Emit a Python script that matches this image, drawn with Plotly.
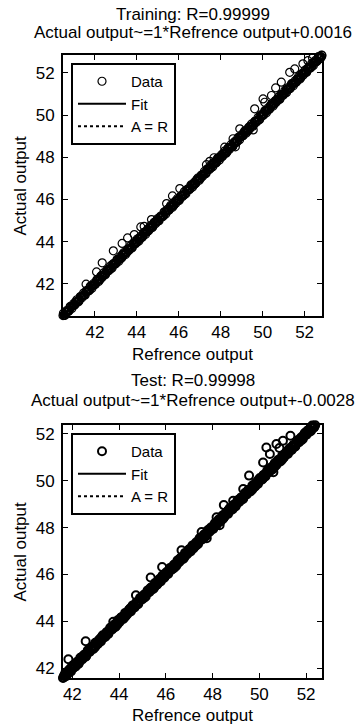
import plotly.graph_objects as go

# ---------------- Training data ----------------
train_ref = [40.48, 40.55, 40.63, 40.70, 40.79, 40.86, 40.95, 41.02, 41.11, 41.19, 41.27, 41.36, 41.44, 41.51, 41.60, 41.68,
             41.77, 41.85, 41.93, 42.02, 42.10, 42.18, 42.27, 42.35, 42.43, 42.52, 42.60, 42.69, 42.77, 42.85, 42.94, 43.02,
             43.10, 43.19, 43.27, 43.35, 43.44, 43.52, 43.61, 43.69, 43.77, 43.86, 43.94, 44.03, 44.11, 44.19, 44.28, 44.36,
             44.45, 44.53, 44.61, 44.70, 44.78, 44.87, 44.95, 45.03, 45.12, 45.20, 45.29, 45.37, 45.45, 45.54, 45.62, 45.71,
             45.79, 45.87, 45.96, 46.04, 46.13, 46.21, 46.29, 46.38, 46.46, 46.55, 46.63, 46.71, 46.80, 46.88, 46.97, 47.05,
             47.13, 47.22, 47.30, 47.39, 47.47, 47.55, 47.64, 47.72, 47.81, 47.89, 47.97, 48.06, 48.14, 48.23, 48.31, 48.39,
             48.48, 48.56, 48.65, 48.73, 48.81, 48.90, 48.98, 49.07, 49.15, 49.23, 49.32, 49.40, 49.49, 49.57, 49.65, 49.74,
             49.82, 49.91, 49.99, 50.07, 50.16, 50.24, 50.33, 50.41, 50.49, 50.58, 50.66, 50.75, 50.83, 50.91, 51.00, 51.08,
             51.17, 51.25, 51.33, 51.42, 51.50, 51.59, 51.67, 51.75, 51.84, 51.92, 52.01, 52.09, 52.17, 52.26, 52.34, 52.43,
             52.51, 52.59, 52.68, 52.76, 52.83]
train_act = [40.50, 40.53, 40.67, 40.70, 40.76, 40.91, 40.96, 40.99, 41.15, 41.19, 41.24, 41.41, 41.45, 41.48, 41.64, 41.69,
             41.74, 41.90, 41.94, 41.99, 42.14, 42.19, 42.24, 42.40, 42.44, 42.49, 42.64, 42.70, 42.74, 42.90, 42.95, 42.99,
             43.14, 43.20, 43.24, 43.40, 43.45, 43.49, 43.65, 43.70, 43.74, 43.91, 43.95, 44.00, 44.15, 44.20, 44.25, 44.41,
             44.46, 44.50, 44.65, 44.71, 44.75, 44.92, 44.96, 45.00, 45.16, 45.21, 45.26, 45.42, 45.46, 45.51, 45.66, 45.72,
             45.76, 45.92, 45.97, 46.01, 46.17, 46.22, 46.26, 46.43, 46.47, 46.52, 46.67, 46.72, 46.77, 46.93, 46.98, 47.02,
             47.17, 47.23, 47.27, 47.44, 47.48, 47.52, 47.68, 47.73, 47.78, 47.94, 47.98, 48.03, 48.18, 48.24, 48.28, 48.44,
             48.49, 48.53, 48.69, 48.74, 48.78, 48.95, 48.99, 49.04, 49.19, 49.24, 49.29, 49.45, 49.50, 49.54, 49.69, 49.75,
             49.79, 49.96, 50.00, 50.04, 50.20, 50.25, 50.30, 50.46, 50.50, 50.55, 50.70, 50.76, 50.80, 50.96, 51.01, 51.05,
             51.21, 51.26, 51.30, 51.47, 51.51, 51.56, 51.71, 51.76, 51.81, 51.97, 52.02, 52.06, 52.21, 52.27, 52.31, 52.48,
             52.52, 52.56, 52.72, 52.77, 52.83]
train_ref_b = [40.52, 40.59, 40.67, 40.75, 40.83, 40.91, 40.99, 41.07, 41.15, 41.23, 41.31, 41.40, 41.48, 41.56, 41.64, 41.73,
               41.81, 41.89, 41.98, 42.06, 42.14, 42.23, 42.31, 42.39, 42.48, 42.56, 42.65, 42.73, 42.81, 42.90, 42.98, 43.06,
               43.15, 43.23, 43.31, 43.40, 43.48, 43.57, 43.65, 43.73, 43.82, 43.90, 43.99, 44.07, 44.15, 44.24, 44.32, 44.41,
               44.49, 44.57, 44.66, 44.74, 44.83, 44.91, 44.99, 45.08, 45.16, 45.25, 45.33, 45.41, 45.50, 45.58, 45.67, 45.75,
               45.83, 45.92, 46.00, 46.09, 46.17, 46.25, 46.34, 46.42, 46.51, 46.59, 46.67, 46.76, 46.84, 46.93, 47.01, 47.09,
               47.18, 47.26, 47.35, 47.43, 47.51, 47.60, 47.68, 47.77, 47.85, 47.93, 48.02, 48.10, 48.19, 48.27, 48.35, 48.44,
               48.52, 48.61, 48.69, 48.77, 48.86, 48.94, 49.03, 49.11, 49.19, 49.28, 49.36, 49.45, 49.53, 49.61, 49.70, 49.78,
               49.87, 49.95, 50.03, 50.12, 50.20, 50.29, 50.37, 50.45, 50.54, 50.62, 50.71, 50.79, 50.87, 50.96, 51.04, 51.13,
               51.21, 51.29, 51.38, 51.46, 51.55, 51.63, 51.71, 51.80, 51.88, 51.97, 52.05, 52.13, 52.22, 52.30, 52.39, 52.47,
               52.55, 52.64, 52.72, 52.80]
train_act_b = [40.51, 40.66, 40.69, 40.71, 40.92, 40.94, 40.98, 41.14, 41.17, 41.19, 41.40, 41.43, 41.47, 41.63, 41.66, 41.69,
               41.90, 41.92, 41.97, 42.13, 42.16, 42.19, 42.40, 42.42, 42.47, 42.63, 42.67, 42.69, 42.90, 42.93, 42.97, 43.13,
               43.17, 43.19, 43.40, 43.43, 43.47, 43.64, 43.67, 43.69, 43.91, 43.93, 43.98, 44.14, 44.17, 44.20, 44.41, 44.44,
               44.48, 44.64, 44.68, 44.70, 44.92, 44.94, 44.98, 45.15, 45.18, 45.21, 45.42, 45.44, 45.49, 45.65, 45.69, 45.71,
               45.92, 45.95, 45.99, 46.16, 46.19, 46.21, 46.43, 46.45, 46.50, 46.66, 46.69, 46.72, 46.93, 46.96, 47.00, 47.16,
               47.20, 47.22, 47.44, 47.46, 47.50, 47.67, 47.70, 47.73, 47.94, 47.96, 48.01, 48.17, 48.21, 48.23, 48.44, 48.47,
               48.51, 48.68, 48.71, 48.73, 48.95, 48.97, 49.02, 49.18, 49.21, 49.24, 49.45, 49.48, 49.52, 49.68, 49.72, 49.74,
               49.96, 49.98, 50.02, 50.19, 50.22, 50.25, 50.46, 50.48, 50.53, 50.69, 50.73, 50.75, 50.96, 50.99, 51.03, 51.20,
               51.23, 51.25, 51.47, 51.49, 51.54, 51.70, 51.73, 51.76, 51.97, 52.00, 52.04, 52.20, 52.24, 52.26, 52.48, 52.50,
               52.54, 52.71, 52.74, 52.76]
train_ref_c = [40.50, 40.58, 40.66, 40.74, 40.82, 40.90, 40.98, 41.06, 41.14, 41.22, 41.30, 41.38, 41.46, 41.54, 41.62, 41.70,
               41.78, 41.86, 41.94, 42.02, 42.10, 42.18, 42.26, 42.34, 42.42, 42.50, 42.58, 42.66, 42.74, 42.82, 42.90, 42.98,
               43.06, 43.14, 43.22, 43.30, 43.38, 43.46, 43.54, 43.62, 43.70, 43.78, 43.86, 43.94, 44.02, 44.10, 44.18, 44.26,
               44.34, 44.42, 44.50, 44.58, 44.66, 44.74, 44.82, 44.90, 44.98, 45.06, 45.14, 45.22, 45.30, 45.38, 45.46, 45.54,
               45.62, 45.70, 45.78, 45.86, 45.94, 46.02, 46.10, 46.18, 46.26, 46.34, 46.42, 46.50, 46.58, 46.66, 46.74, 46.82,
               46.90, 46.98, 47.06, 47.14, 47.22, 47.30, 47.38, 47.46, 47.54, 47.62, 47.70, 47.78, 47.86, 47.94, 48.02, 48.10,
               48.18, 48.26, 48.34, 48.42, 48.50, 48.58, 48.66, 48.74, 48.82, 48.90, 48.98, 49.06, 49.14, 49.22, 49.30, 49.38,
               49.46, 49.54, 49.62, 49.70, 49.78, 49.86, 49.94, 50.02, 50.10, 50.18, 50.26, 50.34, 50.42, 50.50, 50.58, 50.66,
               50.74, 50.82, 50.90, 50.98, 51.06, 51.14, 51.22, 51.30, 51.38, 51.46, 51.54, 51.62, 51.70, 51.78, 51.86, 51.94,
               52.02, 52.10, 52.18, 52.26, 52.34, 52.42, 52.50, 52.58, 52.66, 52.74, 52.81]
train_act_c = [40.61, 40.51, 40.74, 40.70, 40.93, 40.83, 41.06, 41.02, 41.25, 41.15, 41.38, 41.34, 41.57, 41.47, 41.70, 41.66,
               41.89, 41.79, 42.02, 41.98, 42.21, 42.11, 42.34, 42.30, 42.53, 42.43, 42.66, 42.62, 42.85, 42.75, 42.98, 42.94,
               43.17, 43.07, 43.30, 43.26, 43.49, 43.39, 43.62, 43.58, 43.81, 43.71, 43.94, 43.90, 44.13, 44.03, 44.26, 44.22,
               44.45, 44.35, 44.58, 44.54, 44.77, 44.67, 44.90, 44.86, 45.09, 44.99, 45.22, 45.18, 45.41, 45.31, 45.54, 45.50,
               45.73, 45.63, 45.86, 45.82, 46.05, 45.95, 46.18, 46.14, 46.37, 46.27, 46.50, 46.46, 46.69, 46.59, 46.82, 46.78,
               47.01, 46.91, 47.14, 47.10, 47.33, 47.23, 47.46, 47.42, 47.65, 47.55, 47.78, 47.74, 47.97, 47.87, 48.10, 48.06,
               48.29, 48.19, 48.42, 48.38, 48.61, 48.51, 48.74, 48.70, 48.93, 48.83, 49.06, 49.02, 49.25, 49.15, 49.38, 49.34,
               49.57, 49.47, 49.70, 49.66, 49.89, 49.79, 50.02, 49.98, 50.21, 50.11, 50.34, 50.30, 50.53, 50.43, 50.66, 50.62,
               50.85, 50.75, 50.98, 50.94, 51.17, 51.07, 51.30, 51.26, 51.49, 51.39, 51.62, 51.58, 51.81, 51.71, 51.94, 51.90,
               52.13, 52.03, 52.26, 52.22, 52.45, 52.35, 52.58, 52.54, 52.77, 52.67, 52.85]
train_ref_out = [41.58, 42.08, 42.35, 42.88, 43.30, 43.56, 43.88, 44.19, 44.35, 44.70, 45.42, 45.70, 46.05, 47.32, 47.48,
                 47.68, 48.19, 48.59, 48.91, 49.62, 50.02, 50.10, 50.42, 50.62, 50.89, 51.29, 51.53, 51.92, 52.16, 52.38,
                 49.55, 48.70]
train_act_out = [41.99, 42.57, 43.00, 43.57, 43.92, 44.18, 44.34, 44.70, 44.73, 45.05, 45.81, 46.17, 46.52, 47.65, 47.81,
                 47.98, 48.48, 48.88, 49.35, 50.30, 50.77, 50.61, 50.93, 51.29, 51.56, 52.03, 52.19, 52.43, 52.58, 52.71,
                 49.30, 48.50]
train_fit_x = [40.48, 52.83]
train_fit_y = [40.48, 52.83]
train_ar = [40.48, 52.83]

# ---------------- Test data ----------------
test_ref = [41.60, 41.68, 41.77, 41.85, 41.93, 42.02, 42.10, 42.18, 42.27, 42.35, 42.43, 42.52, 42.60, 42.69, 42.77, 42.85,
            42.94, 43.02, 43.10, 43.19, 43.27, 43.35, 43.44, 43.52, 43.61, 43.69, 43.77, 43.86, 43.94, 44.03, 44.11, 44.19,
            44.28, 44.36, 44.45, 44.53, 44.61, 44.70, 44.78, 44.87, 44.95, 45.03, 45.12, 45.20, 45.29, 45.37, 45.45, 45.54,
            45.62, 45.71, 45.79, 45.87, 45.96, 46.04, 46.13, 46.21, 46.29, 46.38, 46.46, 46.55, 46.63, 46.71, 46.80, 46.88,
            46.97, 47.05, 47.13, 47.22, 47.30, 47.39, 47.47, 47.55, 47.64, 47.72, 47.81, 47.89, 47.97, 48.06, 48.14, 48.23,
            48.31, 48.39, 48.48, 48.56, 48.65, 48.73, 48.81, 48.90, 48.98, 49.07, 49.15, 49.23, 49.32, 49.40, 49.49, 49.57,
            49.65, 49.74, 49.82, 49.91, 49.99, 50.07, 50.16, 50.24, 50.33, 50.41, 50.49, 50.58, 50.66, 50.75, 50.83, 50.91,
            51.00, 51.08, 51.17, 51.25, 51.33, 51.42, 51.50, 51.59, 51.67, 51.75, 51.84, 51.92, 52.01, 52.09, 52.17, 52.26,
            52.34, 52.43, 52.51, 52.59, 52.68]
test_act = [41.58, 41.72, 41.72, 41.86, 41.99, 41.99, 42.10, 42.21, 42.21, 42.37, 42.41, 42.56, 42.55, 42.70, 42.83, 42.82,
            42.94, 43.05, 43.04, 43.21, 43.25, 43.39, 43.39, 43.53, 43.67, 43.66, 43.77, 43.89, 43.88, 44.05, 44.09, 44.23,
            44.23, 44.37, 44.51, 44.50, 44.61, 44.73, 44.72, 44.89, 44.93, 45.07, 45.07, 45.21, 45.35, 45.34, 45.45, 45.57,
            45.56, 45.73, 45.77, 45.91, 45.91, 46.05, 46.19, 46.18, 46.29, 46.41, 46.40, 46.57, 46.61, 46.75, 46.75, 46.89,
            47.03, 47.02, 47.13, 47.25, 47.24, 47.41, 47.45, 47.59, 47.59, 47.73, 47.87, 47.86, 47.97, 48.09, 48.08, 48.25,
            48.29, 48.43, 48.43, 48.57, 48.71, 48.70, 48.81, 48.93, 48.92, 49.09, 49.13, 49.27, 49.27, 49.41, 49.55, 49.54,
            49.65, 49.77, 49.76, 49.93, 49.97, 50.11, 50.11, 50.25, 50.39, 50.38, 50.49, 50.61, 50.60, 50.77, 50.81, 50.95,
            50.95, 51.09, 51.23, 51.22, 51.33, 51.45, 51.44, 51.61, 51.65, 51.79, 51.79, 51.93, 52.07, 52.06, 52.17, 52.29,
            52.28, 52.45, 52.49, 52.63, 52.66]
test_ref_b = [41.64, 41.73, 41.81, 41.89, 41.98, 42.06, 42.14, 42.23, 42.31, 42.39, 42.48, 42.56, 42.65, 42.73, 42.81, 42.90,
              42.98, 43.06, 43.15, 43.23, 43.31, 43.40, 43.48, 43.57, 43.65, 43.73, 43.82, 43.90, 43.99, 44.07, 44.15, 44.24,
              44.32, 44.41, 44.49, 44.57, 44.66, 44.74, 44.83, 44.91, 44.99, 45.08, 45.16, 45.25, 45.33, 45.41, 45.50, 45.58,
              45.67, 45.75, 45.83, 45.92, 46.00, 46.09, 46.17, 46.25, 46.34, 46.42, 46.51, 46.59, 46.67, 46.76, 46.84, 46.93,
              47.01, 47.09, 47.18, 47.26, 47.35, 47.43, 47.51, 47.60, 47.68, 47.77, 47.85, 47.93, 48.02, 48.10, 48.19, 48.27,
              48.35, 48.44, 48.52, 48.61, 48.69, 48.77, 48.86, 48.94, 49.03, 49.11, 49.19, 49.28, 49.36, 49.45, 49.53, 49.61,
              49.70, 49.78, 49.87, 49.95, 50.03, 50.12, 50.20, 50.29, 50.37, 50.45, 50.54, 50.62, 50.71, 50.79, 50.87, 50.96,
              51.04, 51.13, 51.21, 51.29, 51.38, 51.46, 51.55, 51.63, 51.71, 51.80, 51.88, 51.97, 52.05, 52.13, 52.22, 52.30,
              52.39, 52.47, 52.55, 52.64]
test_act_b = [41.67, 41.66, 41.86, 41.87, 42.06, 42.09, 42.07, 42.28, 42.29, 42.47, 42.51, 42.49, 42.70, 42.71, 42.89, 42.93,
              42.91, 43.11, 43.13, 43.31, 43.34, 43.33, 43.53, 43.55, 43.73, 43.76, 43.75, 43.95, 43.97, 44.15, 44.18, 44.17,
              44.37, 44.39, 44.57, 44.60, 44.59, 44.79, 44.81, 44.99, 45.02, 45.01, 45.21, 45.23, 45.41, 45.44, 45.43, 45.63,
              45.65, 45.83, 45.86, 45.85, 46.05, 46.07, 46.25, 46.28, 46.27, 46.47, 46.49, 46.67, 46.70, 46.69, 46.89, 46.91,
              47.09, 47.12, 47.11, 47.31, 47.33, 47.51, 47.54, 47.53, 47.73, 47.75, 47.93, 47.96, 47.95, 48.15, 48.17, 48.35,
              48.38, 48.37, 48.57, 48.59, 48.77, 48.80, 48.79, 48.99, 49.01, 49.19, 49.22, 49.21, 49.41, 49.43, 49.61, 49.64,
              49.63, 49.83, 49.85, 50.03, 50.06, 50.05, 50.25, 50.27, 50.45, 50.48, 50.47, 50.67, 50.69, 50.87, 50.90, 50.89,
              51.09, 51.11, 51.29, 51.32, 51.31, 51.51, 51.53, 51.71, 51.74, 51.73, 51.93, 51.95, 52.13, 52.16, 52.15, 52.35,
              52.37, 52.55, 52.58, 52.57]
test_ref_c = [41.62, 41.70, 41.78, 41.86, 41.94, 42.02, 42.10, 42.18, 42.26, 42.34, 42.42, 42.50, 42.58, 42.66, 42.74, 42.82,
              42.90, 42.98, 43.06, 43.14, 43.22, 43.30, 43.38, 43.46, 43.54, 43.62, 43.70, 43.78, 43.86, 43.94, 44.02, 44.10,
              44.18, 44.26, 44.34, 44.42, 44.50, 44.58, 44.66, 44.74, 44.82, 44.90, 44.98, 45.06, 45.14, 45.22, 45.30, 45.38,
              45.46, 45.54, 45.62, 45.70, 45.78, 45.86, 45.94, 46.02, 46.10, 46.18, 46.26, 46.34, 46.42, 46.50, 46.58, 46.66,
              46.74, 46.82, 46.90, 46.98, 47.06, 47.14, 47.22, 47.30, 47.38, 47.46, 47.54, 47.62, 47.70, 47.78, 47.86, 47.94,
              48.02, 48.10, 48.18, 48.26, 48.34, 48.42, 48.50, 48.58, 48.66, 48.74, 48.82, 48.90, 48.98, 49.06, 49.14, 49.22,
              49.30, 49.38, 49.46, 49.54, 49.62, 49.70, 49.78, 49.86, 49.94, 50.02, 50.10, 50.18, 50.26, 50.34, 50.42, 50.50,
              50.58, 50.66, 50.74, 50.82, 50.90, 50.98, 51.06, 51.14, 51.22, 51.30, 51.38, 51.46, 51.54, 51.62, 51.70, 51.78,
              51.86, 51.94, 52.02, 52.10, 52.18, 52.26, 52.34, 52.42, 52.50, 52.58, 52.66]
test_act_c = [41.60, 41.80, 41.73, 41.93, 41.86, 42.12, 42.05, 42.25, 42.18, 42.44, 42.37, 42.57, 42.50, 42.76, 42.69, 42.89,
              42.82, 43.08, 43.01, 43.21, 43.14, 43.40, 43.33, 43.53, 43.46, 43.72, 43.65, 43.85, 43.78, 44.04, 43.97, 44.17,
              44.10, 44.36, 44.29, 44.49, 44.42, 44.68, 44.61, 44.81, 44.74, 45.00, 44.93, 45.13, 45.06, 45.32, 45.25, 45.45,
              45.38, 45.64, 45.57, 45.77, 45.70, 45.96, 45.89, 46.09, 46.02, 46.28, 46.21, 46.41, 46.34, 46.60, 46.53, 46.73,
              46.66, 46.92, 46.85, 47.05, 46.98, 47.24, 47.17, 47.37, 47.30, 47.56, 47.49, 47.69, 47.62, 47.88, 47.81, 48.01,
              47.94, 48.20, 48.13, 48.33, 48.26, 48.52, 48.45, 48.65, 48.58, 48.84, 48.77, 48.97, 48.90, 49.16, 49.09, 49.29,
              49.22, 49.48, 49.41, 49.61, 49.54, 49.80, 49.73, 49.93, 49.86, 50.12, 50.05, 50.25, 50.18, 50.44, 50.37, 50.57,
              50.50, 50.76, 50.69, 50.89, 50.82, 51.08, 51.01, 51.21, 51.14, 51.40, 51.33, 51.53, 51.46, 51.72, 51.65, 51.85,
              51.78, 52.04, 51.97, 52.17, 52.10, 52.36, 52.29, 52.49, 52.42, 52.68, 52.61]
test_ref_out = [41.83, 42.57, 43.75, 44.72, 45.35, 45.84, 46.67, 47.53, 48.17, 48.48, 48.88, 49.31, 49.56, 50.16, 50.30,
                50.45, 50.73, 51.01, 51.33, 50.86, 48.30, 50.60, 47.75]
test_act_out = [42.38, 43.15, 43.98, 45.11, 45.87, 46.32, 47.03, 47.81, 48.44, 48.96, 49.15, 49.65, 50.22, 50.78, 51.42,
                51.14, 51.57, 51.71, 51.92, 51.40, 48.10, 50.36, 47.55]
test_fit_x = [41.60, 52.68]
test_fit_y = [41.60, 52.68]
test_ar = [41.60, 52.68]

tick_vals = [42, 44, 46, 48, 50, 52]
train_range_x = [40.48, 52.83]
train_range_y = [40.48, 52.85]
test_range_x = [41.60, 52.68]
test_range_y = [41.58, 52.38]

FONT = "Liberation Sans, Arial, Helvetica, sans-serif"
FS = 17
LFS = 15
W, H = 356, 724

fig = go.Figure()


def add_panel(sets, fx, fy, ar, xa, ya, leg, msize, mlw):
    for i, (xs, ys) in enumerate(sets):
        fig.add_trace(go.Scatter(x=xs, y=ys, mode="markers", name="Data", legendgroup=leg + "data",
                                 showlegend=(i == 0),
                                 marker=dict(symbol="circle-open", size=msize, color="black",
                                             line=dict(width=mlw, color="black")),
                                 xaxis=xa, yaxis=ya, legend=leg, cliponaxis=False))
    fig.add_trace(go.Scatter(x=fx, y=fy, mode="lines", name="Fit", line=dict(color="black", width=2),
                             xaxis=xa, yaxis=ya, legend=leg))
    fig.add_trace(go.Scatter(x=ar, y=ar, mode="lines", name="A = R", line=dict(color="black", width=2, dash="dot"),
                             xaxis=xa, yaxis=ya, legend=leg))


add_panel([(train_ref, train_act), (train_ref_b, train_act_b), (train_ref_c, train_act_c),
           (train_ref_out, train_act_out)],
          train_fit_x, train_fit_y, train_ar, "x", "y", "legend", 8, 1.2)
add_panel([(test_ref, test_act), (test_ref_b, test_act_b), (test_ref_c, test_act_c),
           (test_ref_out, test_act_out)],
          test_fit_x, test_fit_y, test_ar, "x2", "y2", "legend2", 8, 2)

x0, x1 = 63 / W, 322 / W
axis_common = dict(showgrid=False, zeroline=False, showline=True, linecolor="black", linewidth=2,
                   mirror="ticks", ticks="inside", ticklen=5, tickwidth=1, tickcolor="black",
                   tickvals=tick_vals, tickfont=dict(family=FONT, size=FS, color="black"))

leg_common = dict(xanchor="left", yanchor="top", bgcolor="white", bordercolor="black", borderwidth=2,
                  font=dict(family=FONT, size=LFS, color="black"), itemwidth=48, tracegroupgap=0)

fig.update_layout(
    width=W, height=H, margin=dict(l=0, r=0, t=0, b=0),
    paper_bgcolor="white", plot_bgcolor="white",
    font=dict(family=FONT, size=FS, color="black"),
    xaxis=dict(domain=[x0, x1], range=train_range_x, anchor="y", **axis_common),
    yaxis=dict(domain=[1 - 316 / H, 1 - 55 / H], range=train_range_y, anchor="x", ticklabelstandoff=3, **axis_common),
    xaxis2=dict(domain=[x0, x1], range=test_range_x, anchor="y2", **axis_common),
    yaxis2=dict(domain=[1 - 678 / H, 1 - 425 / H], range=test_range_y, anchor="x2", ticklabelstandoff=3, **axis_common),
    legend=dict(x=71 / W, y=1 - 63 / H, **leg_common),
    legend2=dict(x=71 / W, y=1 - 433 / H, **leg_common),
    showlegend=True,
)


def text(s, xpx, ypx, angle=0):
    fig.add_annotation(text=s, x=xpx / W, y=1 - ypx / H, xref="paper", yref="paper", showarrow=False,
                       xanchor="center", yanchor="middle", textangle=angle,
                       font=dict(family=FONT, size=FS, color="black"))


cx = (63 + 322) / 2
text("Training: R=0.99999", cx, 15)
text("Actual output~=1*Refrence output+0.0016", cx, 33)
text("Refrence output", cx, 354)
text("Actual output", 20, (55 + 316) / 2, -90)
text("Test: R=0.99998", cx, 380)
text("Actual output~=1*Refrence output+-0.0028", cx, 400)
text("Refrence output", cx, 715)
text("Actual output", 20, (425 + 678) / 2, -90)

fig.write_html("out.html")
